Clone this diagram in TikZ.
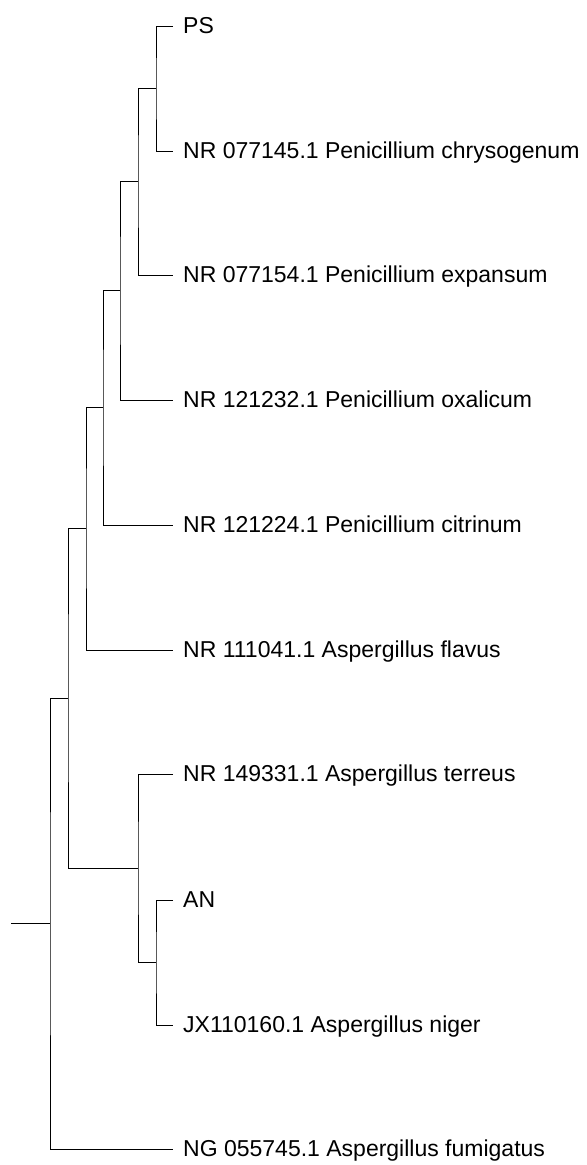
\documentclass[tikz,border=0pt]{standalone}
\usepackage{fontspec}
\setmainfont{Liberation Sans}
\begin{document}
\begin{tikzpicture}[x=1bp,y=-1bp,
  branch/.style={draw=black,line width=1bp},
  leaf/.style={anchor=base west,inner sep=0pt,font=\fontsize{23bp}{27bp}\selectfont}]
\useasboundingbox (0,0) rectangle (587,1165);
% leaf tips
\coordinate (tPS) at (173,26);
\coordinate (t145) at (173,151);
\coordinate (t154) at (173,275);
\coordinate (t232) at (173,400);
\coordinate (t224) at (173,525);
\coordinate (t041) at (173,650);
\coordinate (t331) at (173,774);
\coordinate (tAN) at (173,900);
\coordinate (tJX) at (173,1025);
\coordinate (tNG) at (173,1149);
% internal nodes
\coordinate (n1) at (156,88.5);
\coordinate (n2) at (138,181);
\coordinate (n3) at (120,290.5);
\coordinate (n4) at (103,407.5);
\coordinate (n5) at (86,528);
\coordinate (n6) at (68,698);
\coordinate (n7) at (138,868);
\coordinate (n8) at (156,962.5);
\coordinate (n9) at (50,923.5);
\coordinate (root) at (11,923.5);
% labels
\node[leaf] (lPS) at ([shift={(10,7.8)}]tPS) {PS};
\node[leaf] (l145) at ([shift={(10,7.8)}]t145) {NR 077145.1 Penicillium chrysogenum};
\node[leaf] (l154) at ([shift={(10,7.8)}]t154) {NR 077154.1 Penicillium expansum};
\node[leaf] (l232) at ([shift={(10,7.8)}]t232) {NR 121232.1 Penicillium oxalicum};
\node[leaf] (l224) at ([shift={(10,7.8)}]t224) {NR 121224.1 Penicillium citrinum};
\node[leaf] (l041) at ([shift={(10,7.8)}]t041) {NR 111041.1 Aspergillus flavus};
\node[leaf] (l331) at ([shift={(10,7.8)}]t331) {NR 149331.1 Aspergillus terreus};
\node[leaf] (lAN) at ([shift={(10,7.8)}]tAN) {AN};
\node[leaf] (lJX) at ([shift={(10,7.8)}]tJX) {JX110160.1 Aspergillus niger};
\node[leaf] (lNG) at ([shift={(10,7.8)}]tNG) {NG 055745.1 Aspergillus fumigatus};
% branches
\draw[branch] (tPS) -| (n1) |- (t145);
\draw[branch] (n1) -| (n2) |- (t154);
\draw[branch] (n2) -| (n3) |- (t232);
\draw[branch] (n3) -| (n4) |- (t224);
\draw[branch] (n4) -| (n5) |- (t041);
\draw[branch] (n5) -| (n6) |- (n7);
\draw[branch] (t331) -| (n7) |- (n8);
\draw[branch] (tAN) -| (n8) |- (tJX);
\draw[branch] (n6) -| (n9) |- (tNG);
\draw[branch] (root) -- (n9);
\end{tikzpicture}
\end{document}
